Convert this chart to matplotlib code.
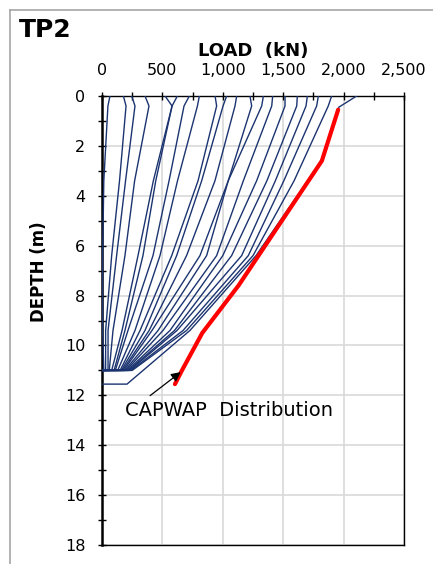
import matplotlib
matplotlib.use("Agg")
import matplotlib.pyplot as plt
from matplotlib.lines import Line2D
from matplotlib.ticker import MultipleLocator, FuncFormatter

plt.rcParams['font.family'] = ['DejaVu Sans']

# gauge depths (m) for the load-transfer curves
depths = [0.0, 0.4, 3.4, 6.4, 9.4, 11.0, 11.0]

# loads (kN) at each gauge depth, one entry per curve (left to right)
load_d0 = [66, 177, 246, 356, 522, 624, 723, 806, 936, 1032, 1115, 1225, 1336, 1413, 1515, 1617, 1700, 1791, 1901]
load_d04 = [49, 199, 273, 389, 580, 580, 679, 790, 949, 1002, 1101, 1239, 1322, 1405, 1515, 1612, 1689, 1777, 1873]
load_d34 = [15, 145, 195, 270, 425, 445, 555, 625, 795, 825, 935, 1045, 1045, 1170, 1280, 1365, 1435, 1505, 1590]
load_d64 = [5, 80, 121, 190, 298, 339, 422, 480, 577, 618, 700, 811, 866, 949, 1000, 1073, 1156, 1211, 1250]
load_d94 = [5, 30, 50, 91, 166, 190, 215, 273, 315, 356, 390, 414, 464, 505, 563, 600, 621, 671, 700]
load_d11 = [15, 30, 50, 60, 80, 100, 110, 130, 150, 160, 170, 180, 190, 200, 210, 220, 230, 240, 250]
load_end = [0] * 19

# outermost (maximum) load-transfer curve
max_depths = [0.0, 0.45, 2.6, 6.4, 9.4, 11.55, 11.55]
max_loads = [2108, 1960, 1815, 1275, 728, 207, 0]

# CAPWAP distribution
capwap_depths = [0.55, 2.6, 7.6, 9.5, 11.0, 11.55]
capwap_loads = [1955, 1820, 1130, 830, 662, 604]

x_ticks = [0, 500, 1000, 1500, 2000, 2500]
y_ticks = [0, 2, 4, 6, 8, 10, 12, 14, 16, 18]

W, H = 433, 564
fig = plt.figure(figsize=(W / 100, H / 100), dpi=100)
ax = fig.add_axes([102 / W, 1 - 545 / H, (404 - 102) / W, (545 - 96) / H])

navy = '#1b3470'
for i in range(len(load_d0)):
    loads = [load_d0[i], load_d04[i], load_d34[i], load_d64[i], load_d94[i], load_d11[i], load_end[i]]
    ax.plot(loads, depths, color=navy, lw=1.0, zorder=3)
ax.plot(max_loads, max_depths, color=navy, lw=1.0, zorder=3)
ax.plot(capwap_loads, capwap_depths, color='#ff0000', lw=3.0, solid_capstyle='round', zorder=4)

ax.set_xlim(0, 2500)
ax.set_ylim(18, 0)
ax.xaxis.tick_top()
ax.xaxis.set_label_position('top')
ax.set_xticks(x_ticks)
ax.set_yticks(y_ticks)
ax.xaxis.set_minor_locator(MultipleLocator(250))
ax.yaxis.set_minor_locator(MultipleLocator(1))
ax.xaxis.set_major_formatter(FuncFormatter(lambda v, p: f"{int(v):,}"))
ax.tick_params(axis='both', which='both', direction='inout', length=6, width=1.0, color='black',
               labelsize=11.5, labelcolor='black')
ax.tick_params(axis='x', which='both', top=True, bottom=False, pad=10)
ax.tick_params(axis='y', which='both', pad=9)
ax.grid(True, which='major', color='#d9d9d9', lw=1.2, zorder=0)
ax.set_axisbelow(True)
for s in ['top', 'right', 'bottom']:
    ax.spines[s].set_linewidth(1.0)
    ax.spines[s].set_color('black')
ax.spines['left'].set_linewidth(1.8)

ax.set_xlabel('LOAD  (kN)', fontsize=13, fontweight='bold', labelpad=5)
ax.set_ylabel('DEPTH (m)', fontsize=12, fontweight='bold')
ax.yaxis.set_label_coords(-(102 - 48) / (404 - 102), 1 - (272 - 96) / (545 - 96))

ax.annotate('', xy=(670, 11.0), xytext=(380, 12.08),
            arrowprops=dict(arrowstyle='-|>', color='black', lw=0.9, mutation_scale=14), zorder=5)
ax.text(190, 12.62, 'CAPWAP  Distribution', fontsize=14, ha='left', va='center', zorder=5)

fig.text(19 / W, 1 - 30 / H, 'TP2', fontsize=18, fontweight='bold', ha='left', va='center')

fig.add_artist(Line2D([10 / W, 1.0], [1 - 10 / H, 1 - 10 / H], color='#a6a6a6', lw=1.2))
fig.add_artist(Line2D([10 / W, 10 / W], [0.0, 1 - 10 / H], color='#a6a6a6', lw=1.2))

fig.savefig('out.png', dpi=100)
